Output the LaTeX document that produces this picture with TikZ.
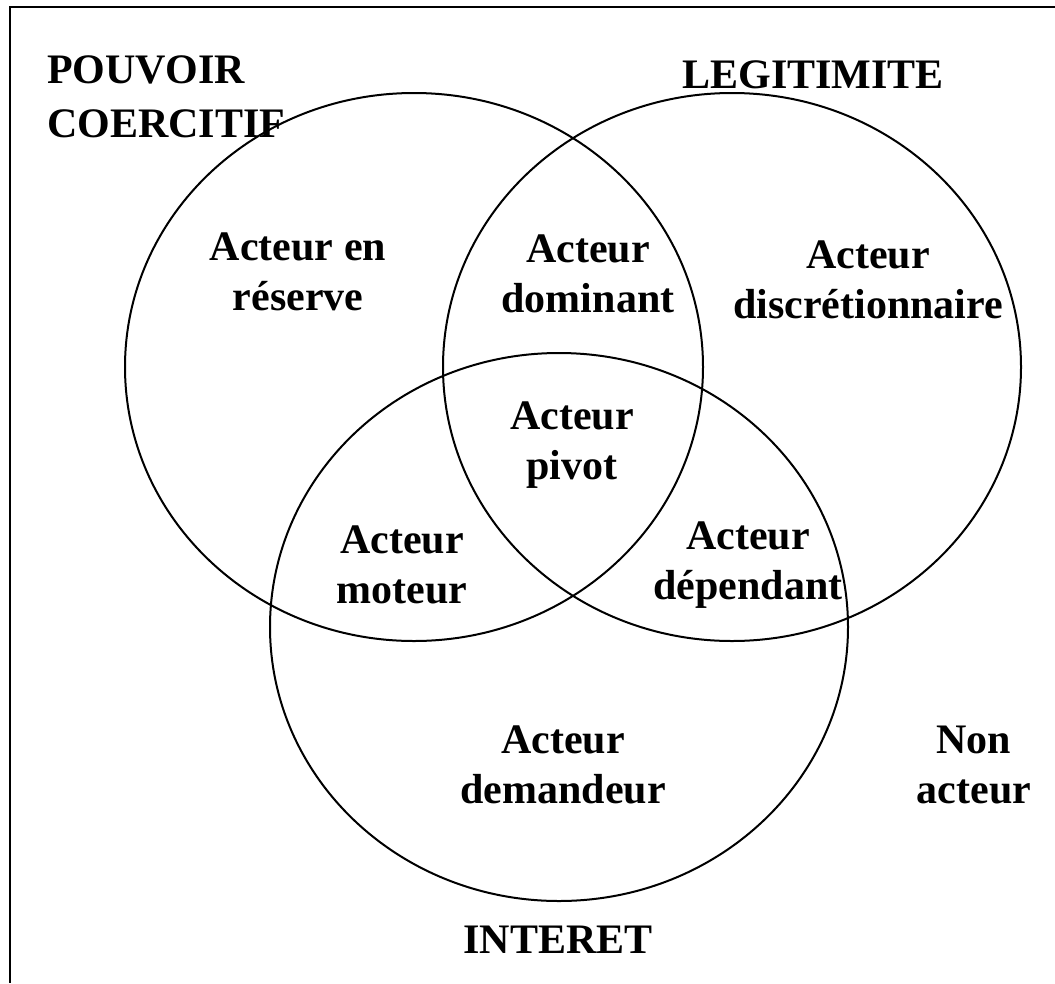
\documentclass[tikz,border=0pt]{standalone}
\usepackage{fontspec}
\setmainfont{Liberation Serif}
\begin{document}
\begin{tikzpicture}[x=1pt,y=-1pt,
    ring/.style={draw=black,line width=2pt},
    frameline/.style={draw=black,line width=2.8pt},
    lbl/.style={font=\fontsize{42}{50}\selectfont\bfseries,align=center,inner sep=0pt},
    title/.style={font=\fontsize{42}{54}\selectfont\bfseries,inner sep=0pt}]
  \useasboundingbox (0,0) rectangle (1055,983);
  % open frame: top and left edges
  \coordinate (ftr) at (1055,7);
  \coordinate (ftl) at (10,7);
  \coordinate (fbl) at (10,983);
  \draw[frameline] (ftr) -- (ftl) -- (fbl);

  % the three sets
  \coordinate (cA) at (414,367);
  \coordinate (cB) at (732,367);
  \coordinate (cC) at (559,627);
  \draw[ring] (cA) ellipse [x radius=289, y radius=274];
  \draw[ring] (cB) ellipse [x radius=289, y radius=274];
  \draw[ring] (cC) ellipse [x radius=289, y radius=274];

  % set titles
  \node[title,align=left,anchor=west] (pouvoir) at (47,97) {POUVOIR\\COERCITIF};
  \node[title] (legit) at (813,75) {LEGITIMITE};
  \node[title] (interet) at (558,940) {INTERET};

  % regions
  \node[lbl] (reserve) at (298,272) {Acteur en\\réserve};
  \node[lbl] (dominant) at (588,274) {Acteur\\dominant};
  \node[lbl] (discr) at (868,280) {Acteur\\discrétionnaire};
  \node[lbl] (pivot) at (572,445) {Acteur\\pivot};
  \node[lbl] (moteur) at (402,565) {Acteur\\moteur};
  \node[lbl] (dependant) at (748,565) {Acteur\\dépendant};
  \node[lbl] (demandeur) at (563,765) {Acteur\\demandeur};
  \node[lbl] (non) at (974,765) {Non\\acteur};
\end{tikzpicture}
\end{document}
